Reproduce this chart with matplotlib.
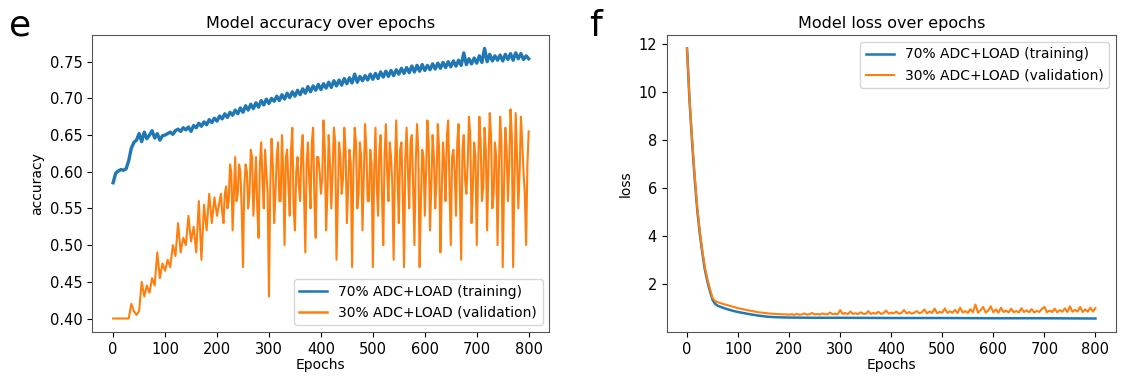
import numpy as np
import matplotlib.pyplot as plt

# accuracy, sampled every 5 epochs
acc_epochs = list(range(0, 801, 5))
train_acc = [0.585, 0.598, 0.601, 0.603, 0.602, 0.604, 0.615, 0.632, 0.640, 0.643,
             0.652, 0.641, 0.654, 0.645, 0.650, 0.656, 0.646, 0.652, 0.643, 0.649,
             0.650, 0.652, 0.654, 0.651, 0.656, 0.658, 0.655, 0.660, 0.657, 0.661,
             0.655, 0.663, 0.660, 0.666, 0.662, 0.668, 0.664, 0.671, 0.667, 0.673,
             0.669, 0.676, 0.672, 0.679, 0.674, 0.681, 0.677, 0.684, 0.679, 0.687,
             0.681, 0.690, 0.684, 0.692, 0.686, 0.694, 0.688, 0.697, 0.691, 0.699,
             0.693, 0.700, 0.696, 0.703, 0.697, 0.705, 0.699, 0.707, 0.701, 0.709,
             0.703, 0.711, 0.705, 0.713, 0.707, 0.716, 0.709, 0.717, 0.711, 0.719,
             0.712, 0.720, 0.714, 0.722, 0.715, 0.724, 0.717, 0.725, 0.718, 0.727,
             0.720, 0.728, 0.721, 0.733, 0.722, 0.730, 0.724, 0.731, 0.725, 0.733,
             0.726, 0.734, 0.727, 0.736, 0.729, 0.737, 0.730, 0.738, 0.731, 0.739,
             0.733, 0.741, 0.734, 0.742, 0.735, 0.744, 0.736, 0.745, 0.737, 0.746,
             0.738, 0.745, 0.739, 0.747, 0.740, 0.748, 0.741, 0.749, 0.742, 0.750,
             0.743, 0.751, 0.744, 0.752, 0.745, 0.762, 0.746, 0.754, 0.747, 0.755,
             0.748, 0.758, 0.749, 0.768, 0.750, 0.760, 0.751, 0.758, 0.752, 0.759,
             0.751, 0.760, 0.753, 0.761, 0.752, 0.762, 0.754, 0.761, 0.753, 0.758,
             0.754]
val_acc = [0.400, 0.400, 0.400, 0.400, 0.400, 0.400, 0.400, 0.420, 0.410, 0.405,
           0.410, 0.450, 0.430, 0.445, 0.435, 0.455, 0.445, 0.490, 0.455, 0.475,
           0.465, 0.480, 0.470, 0.500, 0.485, 0.530, 0.490, 0.510, 0.500, 0.540,
           0.505, 0.525, 0.490, 0.560, 0.480, 0.555, 0.520, 0.570, 0.530, 0.565,
           0.540, 0.560, 0.545, 0.570, 0.550, 0.610, 0.520, 0.620, 0.570, 0.600,
           0.470, 0.610, 0.550, 0.630, 0.540, 0.620, 0.510, 0.640, 0.550, 0.600,
           0.430, 0.645, 0.530, 0.620, 0.560, 0.650, 0.500, 0.630, 0.540, 0.660,
           0.520, 0.620, 0.560, 0.650, 0.490, 0.640, 0.550, 0.660, 0.510, 0.620,
           0.570, 0.670, 0.520, 0.650, 0.550, 0.660, 0.480, 0.640, 0.570, 0.660,
           0.530, 0.630, 0.470, 0.660, 0.550, 0.640, 0.520, 0.665, 0.560, 0.630,
           0.470, 0.660, 0.540, 0.650, 0.500, 0.665, 0.560, 0.620, 0.480, 0.670,
           0.530, 0.640, 0.470, 0.660, 0.550, 0.650, 0.500, 0.665, 0.470, 0.630,
           0.540, 0.670, 0.520, 0.650, 0.550, 0.665, 0.490, 0.640, 0.560, 0.670,
           0.500, 0.630, 0.540, 0.665, 0.480, 0.650, 0.570, 0.675, 0.530, 0.640,
           0.500, 0.675, 0.560, 0.660, 0.520, 0.680, 0.550, 0.640, 0.500, 0.675,
           0.470, 0.660, 0.560, 0.685, 0.470, 0.680, 0.550, 0.675, 0.600, 0.500,
           0.655]
# extra validation samples in between (epochs 202.5 ... 797.5)
val_acc_mid_epochs = [202.5 + 5 * k for k in range(120)]
val_acc_mid = [0.55, 0.57, 0.53, 0.58, 0.56, 0.60, 0.57, 0.56, 0.61, 0.55,
               0.58, 0.60, 0.57, 0.62, 0.58, 0.55, 0.61, 0.59, 0.63, 0.57,
               0.58, 0.61, 0.57, 0.64, 0.56, 0.60, 0.62, 0.58, 0.63, 0.55,
               0.60, 0.58, 0.63, 0.57, 0.61, 0.59, 0.64, 0.56, 0.62, 0.60,
               0.59, 0.63, 0.57, 0.61, 0.60, 0.64, 0.56, 0.62, 0.59, 0.63,
               0.58, 0.61, 0.60, 0.64, 0.57, 0.62, 0.59, 0.63, 0.56, 0.61,
               0.60, 0.58, 0.63, 0.57, 0.62, 0.60, 0.64, 0.58, 0.61, 0.59,
               0.63, 0.57, 0.62, 0.60, 0.64, 0.58, 0.61, 0.63, 0.56, 0.62,
               0.60, 0.64, 0.58, 0.62, 0.59, 0.63, 0.57, 0.61, 0.65, 0.58,
               0.62, 0.60, 0.64, 0.57, 0.63, 0.59, 0.61, 0.65, 0.58, 0.62,
               0.60, 0.64, 0.58, 0.63, 0.61, 0.65, 0.57, 0.62, 0.60, 0.64,
               0.58, 0.63, 0.61, 0.65, 0.59, 0.62, 0.60, 0.64, 0.57, 0.61]

# loss
train_loss_epochs = [0, 5, 10, 15, 20, 25, 30, 35, 40, 45, 50, 55, 60, 70, 80, 90, 100,
                     120, 140, 160, 180, 200, 250, 300, 400, 500, 600, 700, 800]
train_loss = [11.8, 9.6, 7.9, 6.4, 5.1, 4.1, 3.3, 2.6, 2.1, 1.7, 1.35, 1.18, 1.1, 1.02,
              0.95, 0.89, 0.84, 0.76, 0.69, 0.64, 0.62, 0.61, 0.60, 0.60, 0.59, 0.59,
              0.58, 0.58, 0.57]
val_loss_head_epochs = [0, 5, 10, 15, 20, 25, 30, 35, 40, 45, 50, 55, 60, 70, 80, 90,
                        100, 120, 140, 160, 180, 195]
val_loss_head = [11.8, 9.7, 8.0, 6.5, 5.2, 4.2, 3.4, 2.7, 2.2, 1.8, 1.42, 1.3, 1.25, 1.18,
                 1.12, 1.06, 1.0, 0.91, 0.83, 0.78, 0.75, 0.74]
val_loss_tail_epochs = list(range(200, 801, 5))
val_loss_tail = [0.73, 0.75, 0.72, 0.76, 0.73, 0.74, 0.78, 0.73, 0.75, 0.80, 0.74,
                 0.76, 0.73, 0.78, 0.75, 0.74, 0.82, 0.75, 0.77, 0.74, 0.92,
                 0.76, 0.80, 0.75, 0.86, 0.76, 0.79, 0.75, 0.83, 0.77, 0.76,
                 0.88, 0.76, 0.80, 0.77, 0.85, 0.76, 0.79, 0.90, 0.77, 0.82,
                 0.78, 0.86, 0.77, 0.80, 0.92, 0.78, 0.84, 0.77, 0.81, 0.88,
                 0.79, 0.83, 0.95, 0.78, 0.86, 0.80, 0.98, 0.79, 0.85, 0.81,
                 0.99, 0.80, 0.87, 0.81, 0.93, 0.80, 1.02, 0.82, 0.88, 0.80,
                 0.96, 0.83, 1.15, 0.81, 0.92, 1.05, 0.82, 0.90, 1.08, 0.83,
                 0.95, 0.81, 1.02, 0.84, 0.90, 0.82, 0.98, 0.83, 0.88, 0.82,
                 1.00, 0.84, 0.91, 0.83, 0.96, 0.82, 0.89, 0.84, 0.97, 1.05,
                 0.83, 0.90, 0.84, 0.98, 0.83, 0.92, 0.85, 0.99, 0.84, 1.08,
                 0.85, 0.93, 0.86, 1.05, 0.84, 0.95, 0.85, 1.02, 0.86, 1.00]

train_label = '70% ADC+LOAD (training)'
val_label = '30% ADC+LOAD (validation)'
blue = '#1f77b4'
orange = '#ff7f0e'

# merge the two validation samplings by epoch
pairs = sorted(zip(acc_epochs + val_acc_mid_epochs, val_acc + val_acc_mid))
val_x = [p[0] for p in pairs]
val_y = [p[1] for p in pairs]

fig = plt.figure(figsize=(11.26, 3.76), dpi=100)
ax1 = fig.add_axes([0.082, 0.117, 0.406, 0.790])
ax2 = fig.add_axes([0.592, 0.117, 0.399, 0.790])

## accuracy
ax1.plot(acc_epochs, train_acc, color=blue, linewidth=2.4, label=train_label)
ax1.plot(val_x, val_y, color=orange, linewidth=1.5, label=val_label)
ax1.set_title('Model accuracy over epochs', fontsize=11.5, pad=5)
ax1.set_ylabel('accuracy', fontsize=10)
ax1.set_xlabel('Epochs', fontsize=10, labelpad=1)
ax1.set_xticks(range(0, 801, 100))
ax1.set_yticks([0.40, 0.45, 0.50, 0.55, 0.60, 0.65, 0.70, 0.75])
ax1.tick_params(labelsize=10.5)
leg = ax1.legend(loc='lower right', fontsize=10)
for h in leg.get_lines():
    h.set_linewidth(1.8)

## loss
ax2.plot(train_loss_epochs, train_loss, color=blue, linewidth=1.8, label=train_label)
ax2.plot(val_loss_head_epochs + val_loss_tail_epochs, val_loss_head + val_loss_tail,
         color=orange, linewidth=1.5, label=val_label)
ax2.set_title('Model loss over epochs', fontsize=11.5, pad=5)
ax2.set_ylabel('loss', fontsize=10)
ax2.set_xlabel('Epochs', fontsize=10, labelpad=1)
ax2.set_xticks(range(0, 801, 100))
ax2.set_yticks([2, 4, 6, 8, 10, 12])
ax2.tick_params(labelsize=10.5)
ax2.legend(loc='upper right', fontsize=10)

for ax in (ax1, ax2):
    for s in ax.spines.values():
        s.set_color('#555555')

fig.text(0.008, 0.905, 'e', fontsize=26)
fig.text(0.523, 0.905, 'f', fontsize=26)

fig.savefig('out.png', dpi=100)
